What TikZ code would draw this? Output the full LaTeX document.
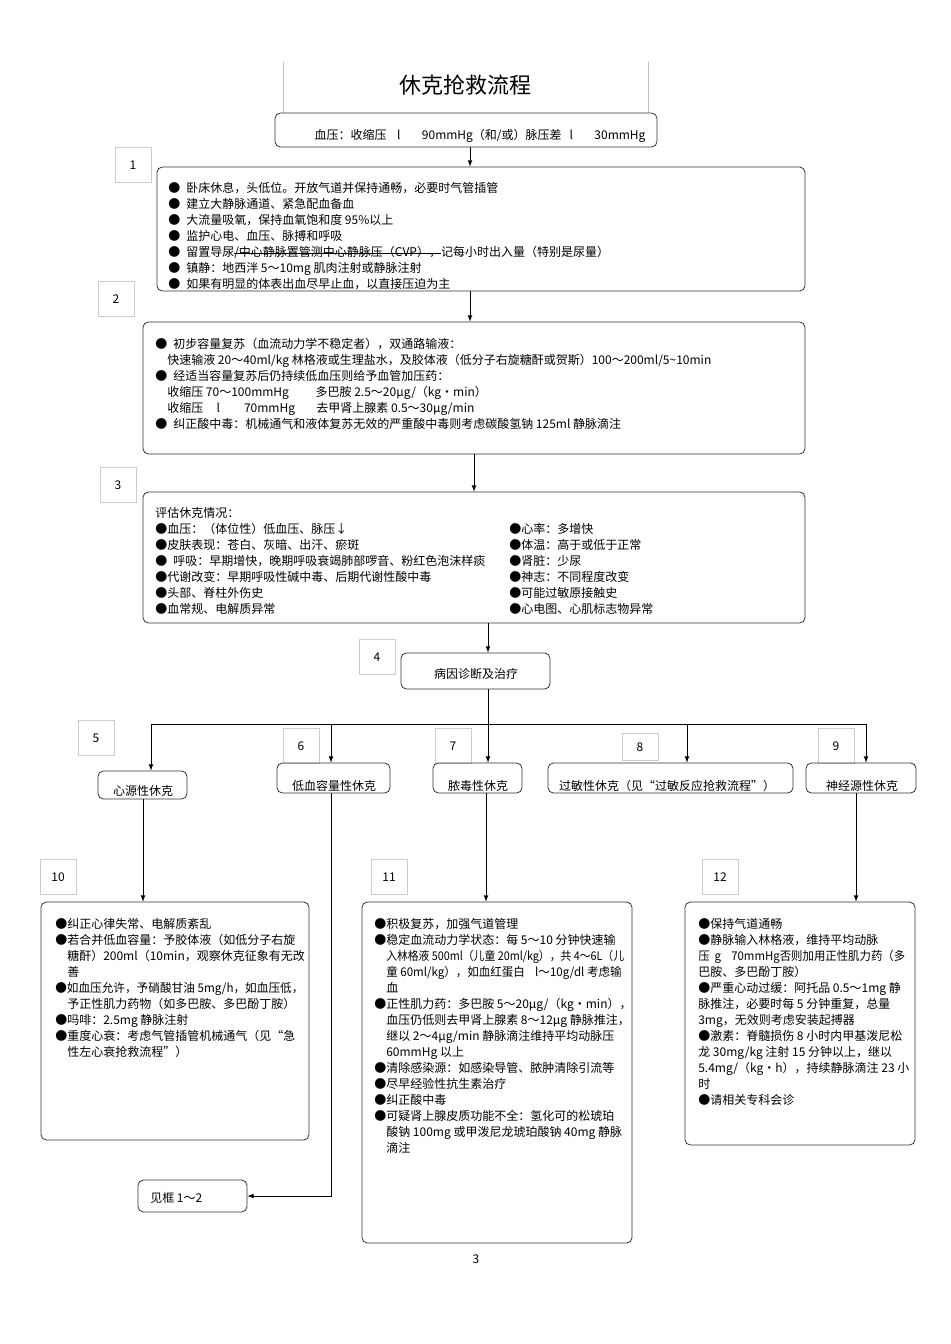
\documentclass[tikz,border=0pt]{standalone}
\usepackage{fontspec}
\usepackage{graphicx}
\setmainfont{Noto Sans CJK SC}
\usetikzlibrary{fit}
\newcommand\strikethru[1]{\setbox0\hbox{#1}\rlap{\rule[0.22em]{\wd0}{0.5pt}}\box0}
\newcommand\bulletpad{\hspace*{1em}}
\begin{document}
\begin{tikzpicture}[x=0.75pt,y=-0.75pt,
    flowbox/.style={draw=black!80,semithick,rounded corners=4pt,inner sep=0pt},
    numbox/.style={draw=black!20,inner sep=0pt,minimum width=27pt,minimum height=26pt,font=\fontsize{9}{12}\selectfont},
    bodytext/.style={anchor=north west,inner sep=0pt,align=left,font=\fontsize{9}{12}\selectfont},
    boxtext/.style={inner sep=0pt,font=\fontsize{9}{12}\selectfont},
    arr/.style={-latex,semithick}]
    \useasboundingbox (0,0) rectangle (950,1344);
    \draw[black!25] (283,62) -- (283,113);
    \draw[black!25] (648,62) -- (648,113);
    \node[inner sep=0pt,font=\fontsize{16.5}{20}\selectfont] (title) at (465,85) {休克抢救流程};
    \node[flowbox,fit={(275,113) (657,147)}] (bp) {};
    \node[boxtext] (bpt) at (480,136) {血压：收缩压\hspace{8pt}l\hspace{16pt}90mmHg（和/或）脉压差\hspace{6pt}l\hspace{16pt}30mmHg};
    % steps 1 to 3
    \node[numbox] (l1) at (133,165) {1};
    \node[flowbox,fit={(157,167) (805,291)}] (b1) {};
    \node[bodytext] (t1) at (168,182) {●\enspace 卧床休息，头低位。开放气道并保持通畅，必要时气管插管\\
        ●\enspace 建立大静脉通道、紧急配血备血\\
        ●\enspace 大流量吸氧，保持血氧饱和度 95\%以上\\
        ●\enspace 监护心电、血压、脉搏和呼吸\\
        ●\enspace 留置导尿\strikethru{/中心静脉置管测中心静脉压（CVP），}记每小时出入量（特别是尿量）\\
        ●\enspace 镇静：地西泮 5～10mg 肌肉注射或静脉注射\\
        ●\enspace 如果有明显的体表出血尽早止血，以直接压迫为主};
    \node[numbox] (l2) at (116,299) {2};
    \node[flowbox,fit={(143,322) (805,454)}] (b2) {};
    \node[bodytext] (t2) at (155,338) {●\enspace 初步容量复苏（血流动力学不稳定者），双通路输液：\\
        \bulletpad 快速输液 20～40ml/kg 林格液或生理盐水，及胶体液（低分子右旋糖酐或贺斯）100～200ml/5\textasciitilde 10min\\
        ●\enspace 经适当容量复苏后仍持续低血压则给予血管加压药：\\
        \bulletpad 收缩压 70～100mmHg\hspace{20pt}多巴胺 2.5～20μg/（kg・min）\\
        \bulletpad 收缩压\hspace{10pt}l\hspace{18pt}70mmHg\hspace{16pt}去甲肾上腺素 0.5～30μg/min\\
        ●\enspace 纠正酸中毒：机械通气和液体复苏无效的严重酸中毒则考虑碳酸氢钠 125ml 静脉滴注};
    \node[numbox] (l3) at (118,485) {3};
    \node[flowbox,fit={(143,492) (805,623)}] (b3) {};
    \node[bodytext] (t3a) at (155,507) {评估休克情况：\\
        ●血压：（体位性）低血压、脉压↓\\
        ●皮肤表现：苍白、灰暗、出汗、瘀斑\\
        ●\enspace 呼吸：早期增快，晚期呼吸衰竭肺部啰音、粉红色泡沫样痰\\
        ●代谢改变：早期呼吸性碱中毒、后期代谢性酸中毒\\
        ●头部、脊柱外伤史\\
        ●血常规、电解质异常};
    \node[bodytext] (t3b) at (509,523) {●心率：多增快\\
        ●体温：高于或低于正常\\
        ●肾脏：少尿\\
        ●神志：不同程度改变\\
        ●可能过敏原接触史\\
        ●心电图、心肌标志物异常};
    \node[numbox] (l4) at (377,657) {4};
    \node[flowbox,fit={(401,653) (550,689)}] (b4) {};
    \node[boxtext] (t4) at (476,674) {病因诊断及治疗};
    % shock types
    \node[numbox] (l5) at (96,738) {5};
    \node[numbox] (l6) at (301,746) {6};
    \node[numbox] (l7) at (453,746) {7};
    \node[numbox,minimum height=20pt] (l8) at (640,747) {8};
    \node[numbox] (l9) at (836,746) {9};
    \node[flowbox,fit={(98,771) (187,799)}] (b5) {};
    \node[boxtext] (t5) at (143,791) {心源性休克};
    \node[flowbox,fit={(277,763) (390,793)}] (b6) {};
    \node[boxtext] (t6) at (334,786) {低血容量性休克};
    \node[flowbox,fit={(433,763) (522,793)}] (b7) {};
    \node[boxtext] (t7) at (478,786) {脓毒性休克};
    \node[flowbox,fit={(548,763) (793,793)}] (b8) {};
    \node[boxtext] (t8) at (667,786) {过敏性休克（见“过敏反应抢救流程”）};
    \node[flowbox,fit={(806,763) (916,793)}] (b9) {};
    \node[boxtext] (t9) at (862,786) {神经源性休克};
    % treatment boxes
    \node[numbox] (l10) at (58,877) {10};
    \node[numbox] (l11) at (389,877) {11};
    \node[numbox] (l12) at (720,877) {12};
    \node[flowbox,fit={(41,902) (309,1140)}] (b10) {};
    \node[bodytext] (t10) at (55,918) {●纠正心律失常、电解质紊乱\\
        ●若合并低血容量：予胶体液（如低分子右旋\\
        \bulletpad 糖酐）200ml（10min，观察休克征象有无改\\
        \bulletpad 善\\
        \scalebox{0.97}[1]{●如血压允许，予硝酸甘油 5mg/h，如血压低，}\\
        \bulletpad 予正性肌力药物（如多巴胺、多巴酚丁胺）\\
        ●吗啡：2.5mg 静脉注射\\
        ●重度心衰：考虑气管插管机械通气（见“急\\
        \bulletpad 性左心衰抢救流程”）};
    \node[flowbox,fit={(362,902) (632,1243)}] (b11) {};
    \node[bodytext] (t11) at (374,918) {●积极复苏，加强气道管理\\
        ●稳定血流动力学状态：每 5～10 分钟快速输\\
        \bulletpad \scalebox{0.9}[1]{入林格液 500ml（儿童 20ml/kg），共 4～6L（儿}\\
        \bulletpad \scalebox{0.96}[1]{童 60ml/kg），如血红蛋白\hspace{8pt}l～10g/dl 考虑输}\\
        \bulletpad 血\\
        ●正性肌力药：多巴胺 5～20μg/（kg・min），\\
        \bulletpad 血压仍低则去甲肾上腺素 8～12μg 静脉推注，\\
        \bulletpad 继以 2～4μg/min 静脉滴注维持平均动脉压\\
        \bulletpad 60mmHg 以上\\
        ●清除感染源：如感染导管、脓肿清除引流等\\
        ●尽早经验性抗生素治疗\\
        ●纠正酸中毒\\
        ●可疑肾上腺皮质功能不全：氢化可的松琥珀\\
        \bulletpad 酸钠 100mg 或甲泼尼龙琥珀酸钠 40mg 静脉\\
        \bulletpad 滴注};
    \node[flowbox,fit={(685,902) (915,1145)}] (b12) {};
    \node[bodytext] (t12) at (698,918) {●保持气道通畅\\
        ●静脉输入林格液，维持平均动脉\\
        \scalebox{0.95}[1]{压\hspace{4pt}g\hspace{8pt}70mmHg否则加用正性肌力药（多}\\
        巴胺、多巴酚丁胺）\\
        ●严重心动过缓：阿托品 0.5～1mg 静\\
        脉推注，必要时每 5 分钟重复，总量\\
        3mg，无效则考虑安装起搏器\\
        ●激素：脊髓损伤 8 小时内甲基泼尼松\\
        龙 30mg/kg 注射 15 分钟以上，继以\\
        5.4mg/（kg・h），持续静脉滴注 23 小\\
        时\\
        ●请相关专科会诊};
    \node[flowbox,fit={(138,1180) (247,1212)}] (seebox) {};
    \node[boxtext,anchor=west] (tsee) at (150,1198) {见框 1～2};
    \node[boxtext] (pg) at (476,1259) {3};
    % connectors
    \coordinate (s1) at (470,0);
    \coordinate (s2) at (474,0);
    \coordinate (x5) at (151,724);
    \coordinate (x6) at (331,724);
    \coordinate (x7) at (488,724);
    \coordinate (x8) at (687,724);
    \coordinate (x9) at (866,724);
    \coordinate (y10) at (143,0);
    \coordinate (y11) at (486,0);
    \coordinate (y12) at (856,0);
    \draw[arr] (s1 |- bp.south) -- (s1 |- b1.north);
    \draw[arr] (s1 |- b1.south) -- (s1 |- b2.north);
    \draw[arr] (s2 |- b2.south) -- (s2 |- b3.north);
    \draw[arr] (x7 |- b3.south) -- (x7 |- b4.north);
    \draw[arr] (x7 |- b4.south) -- (x7 |- b7.north);
    \draw[semithick] (x5) -- (x9);
    \draw[arr] (x5) -- (x5 |- b5.north);
    \draw[arr] (x6) -- (x6 |- b6.north);
    \draw[arr] (x8) -- (x8 |- b8.north);
    \draw[arr] (x9) -- (x9 |- b9.north);
    \draw[arr] (y10 |- b5.south) -- (y10 |- b10.north);
    \draw[arr] (y11 |- b7.south) -- (y11 |- b11.north);
    \draw[arr] (y12 |- b9.south) -- (y12 |- b12.north);
    \draw[arr] (x6 |- b6.south) |- (seebox.east);
\end{tikzpicture}
\end{document}
